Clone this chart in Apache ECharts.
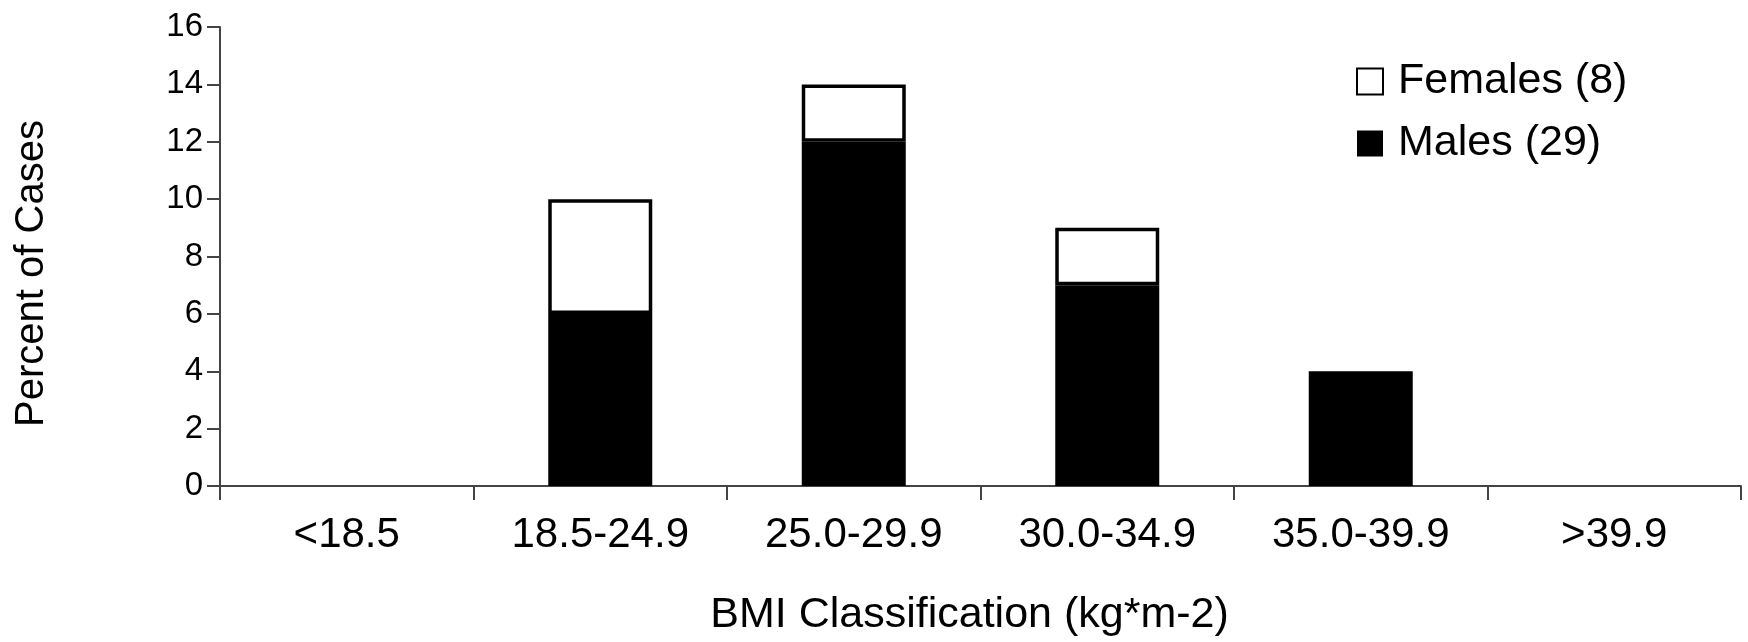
<!DOCTYPE html>
<html>
<head>
<meta charset="utf-8">
<script src="https://cdn.jsdelivr.net/npm/echarts@6/dist/echarts.min.js"></script>
<style>html,body{margin:0;padding:0;background:#fff}#c{width:1748px;height:642px}</style>
</head>
<body>
<div id="c"></div>
<script>
const categories = ['<18.5', '18.5-24.9', '25.0-29.9', '30.0-34.9', '35.0-39.9', '>39.9'];
const males = [0, 6, 12, 7, 4, 0];
const females = [0, 4, 2, 2, 0, 0];
const yTicks = [0, 2, 4, 6, 8, 10, 12, 14, 16];
const seriesNames = ['Females (8)', 'Males (29)'];

const FONT = '"Liberation Sans", Arial, sans-serif';
const noZero = arr => arr.map(v => (v === 0 ? null : v));
const chart = echarts.init(document.getElementById('c'), null, {renderer: 'canvas'});
chart.setOption({
  animation: false,
  backgroundColor: '#fff',
  grid: {left: 220, right: 7, top: 27, bottom: 155, containLabel: false},
  legend: {
    data: [seriesNames[0], seriesNames[1]],
    orient: 'vertical',
    left: 1351,
    top: 55,
    itemWidth: 26,
    itemHeight: 26,
    itemGap: 19,
    icon: 'rect',
    textStyle: {fontFamily: FONT, fontSize: 43, color: '#000', padding: [0, 0, 0, 10]}
  },
  xAxis: {
    type: 'category',
    data: categories,
    name: 'BMI Classification (kg*m-2)',
    nameLocation: 'middle',
    nameGap: 108,
    nameTextStyle: {fontFamily: FONT, fontSize: 43, color: '#000', padding: [0, 22, 0, 0]},
    axisLine: {lineStyle: {color: '#444', width: 2}},
    axisTick: {show: true, length: 14, interval: 0, lineStyle: {color: '#444', width: 2}},
    axisLabel: {fontFamily: FONT, fontSize: 42, color: '#000', margin: 28, interval: 0}
  },
  yAxis: {
    type: 'value',
    min: yTicks[0],
    max: yTicks[yTicks.length - 1],
    interval: yTicks[1] - yTicks[0],
    name: 'Percent of Cases',
    nameLocation: 'middle',
    nameGap: 168,
    nameTextStyle: {fontFamily: FONT, fontSize: 40, color: '#000', padding: [0, 34, 0, 0]},
    splitLine: {show: false},
    axisLine: {show: true, lineStyle: {color: '#444', width: 2}},
    axisTick: {show: true, length: 13, lineStyle: {color: '#444', width: 2}},
    axisLabel: {fontFamily: FONT, fontSize: 33, color: '#000', margin: 17}
  },
  series: [
    {
      name: seriesNames[1],
      type: 'bar',
      stack: 'total',
      data: noZero(males),
      barWidth: 104,
      itemStyle: {color: '#000', borderColor: '#000', borderWidth: 0}
    },
    {
      name: seriesNames[0],
      type: 'bar',
      stack: 'total',
      data: noZero(females),
      barWidth: 104,
      itemStyle: {color: '#fff', borderColor: '#000', borderWidth: 3.5}
    }
  ]
});
</script>
</body>
</html>
